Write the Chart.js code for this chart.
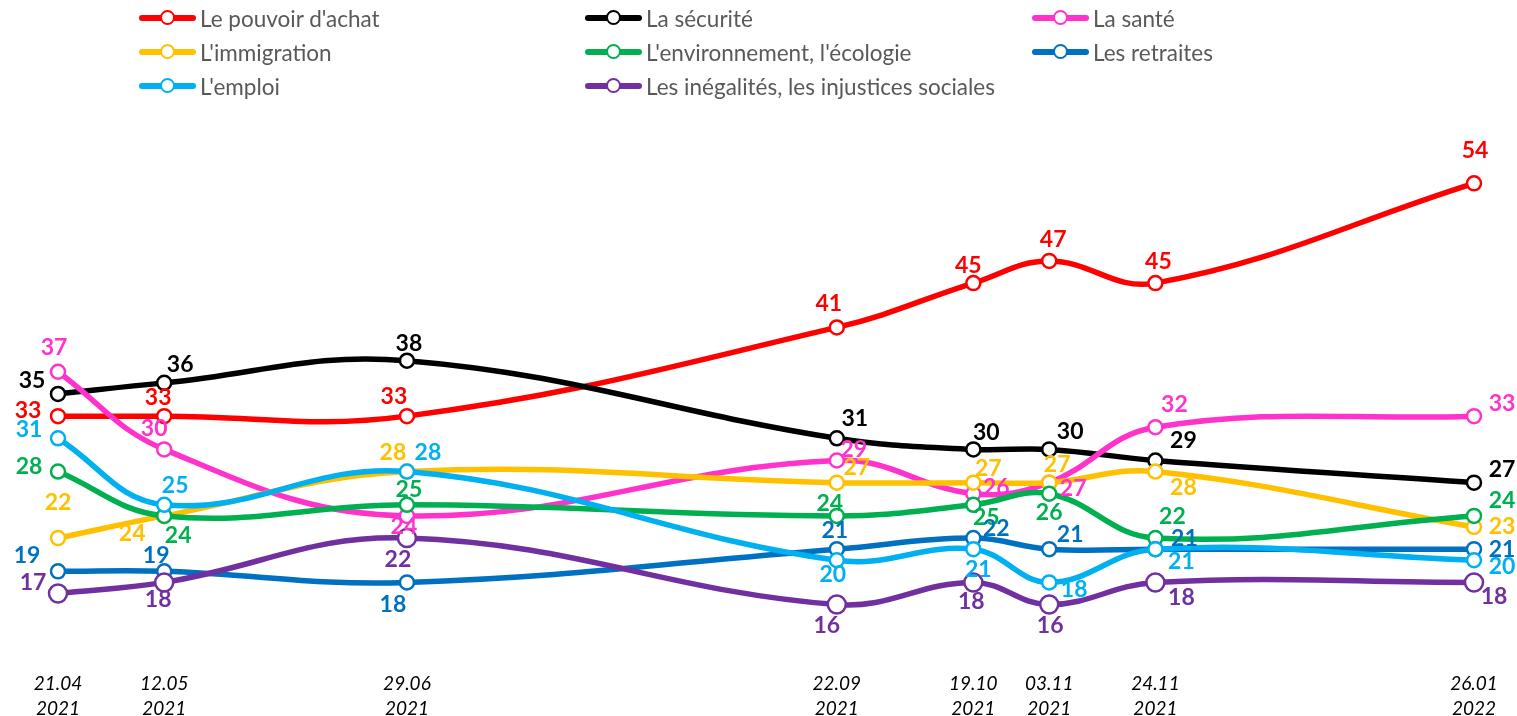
<!DOCTYPE html>
<html lang="fr">
<head>
<meta charset="utf-8">
<script src="https://cdn.jsdelivr.net/npm/chart.js@4.4.1/dist/chart.umd.min.js"></script>
<style>
    html, body { margin: 0; padding: 0; background: #fff; overflow: hidden; }
    #wrap { position: relative; width: 1517px; height: 716px; }
    #chart { position: absolute; left: 0; top: 0; }
    .legend-item { position: absolute; display: flex; align-items: center; height: 30px; font-family: Lato, sans-serif; font-size: 22.5px; color: #595959; white-space: nowrap; }
    .legend-mark { position: relative; width: 57px; height: 6px; border-radius: 3px; margin-right: 4px; }
    .legend-mark span { position: absolute; left: 21px; top: -5px; width: 11px; height: 11px; border-radius: 50%; background: #fff; border: 2.5px solid; }
</style>
</head>
<body>
<div id="wrap">
    <canvas id="chart" width="1517" height="716"></canvas>
    <div id="legend"></div>
</div>
<script>
// survey dates (x axis)
const dates = ['21.04.2021', '12.05.2021', '29.06.2021', '22.09.2021', '19.10.2021', '03.11.2021', '24.11.2021', '26.01.2022'];

const seriesNames = [
    "Le pouvoir d'achat", 'La sécurité', 'La santé',
    "L'immigration", "L'environnement, l'écologie", 'Les retraites',
    "L'emploi", 'Les inégalités, les injustices sociales'
];

const pouvoirAchat = [33, 33, 33, 41, 45, 47, 45, 54];
const securite     = [35, 36, 38, 31, 30, 30, 29, 27];
const sante        = [37, 30, 24, 29, 26, 27, 32, 33];
const immigration  = [22, 24, 28, 27, 27, 27, 28, 23];
const environnement = [28, 24, 25, 24, 25, 26, 22, 24];
const retraites    = [19, 19, 18, 21, 22, 21, 21, 21];
const emploi       = [31, 25, 28, 20, 21, 18, 21, 20];
const inegalites   = [17, 18, 22, 16, 18, 16, 18, 18];

const seriesValues = [pouvoirAchat, securite, sante, immigration, environnement, retraites, emploi, inegalites];
const seriesColors = ['#FF0000', '#000000', '#FF33CC', '#FFC000', '#00B050', '#0070C0', '#00B0F0', '#7030A0'];

// where each value label sits relative to its point (dx, dy in px)
const labelOffsets = [
    [[-30, -6], [-6, -19], [-13, -20], [-8, -24], [-5, -18], [4, -21], [3, -22], [1, -33]],
    [[-26, -13], [16, -18], [2, -17], [18, -20], [13, -17], [21, -18], [28, -20], [28, -13]],
    [[-4, -24], [-10, -21], [-3, 11], [17, -11], [23, -6], [24, 6], [19, -23], [28, -13]],
    [[0, -35], [-32, 18], [-14, -19], [20, -15], [15, -14], [8, -18], [28, 16], [28, 0]],
    [[-29, -5], [14, 20], [2, -15], [-7, -12], [13, 13], [0, 19], [17, -21], [28, -15]],
    [[-31, -16], [-8, -16], [-14, 22], [-2, -19], [23, -9], [21, -15], [29, -11], [28, 0]],
    [[-29, -9], [11, -19], [21, -19], [-4, 14], [5, 20], [25, 7], [26, 12], [28, 6]],
    [[-25, -11], [-6, 17], [-9, 22], [-10, 21], [-2, 19], [1, 21], [26, 15], [20, 14]]
];

function dayNumber(s) {
    const [d, m, y] = s.split('.').map(Number);
    return Date.UTC(y, m - 1, d) / 86400000;
}
const day0 = dayNumber(dates[0]);
const days = dates.map(s => dayNumber(s) - day0);

// legend (3 columns, row-major)
const legendCols = [139, 585, 1032];
const legendRows = [3, 37, 71];
const legendEl = document.getElementById('legend');
seriesNames.forEach((name, i) => {
    const item = document.createElement('div');
    item.className = 'legend-item';
    item.style.left = legendCols[i % 3] + 'px';
    item.style.top = legendRows[Math.floor(i / 3)] + 'px';
    item.innerHTML = `<div class="legend-mark" style="background:${seriesColors[i]}"><span style="border-color:${seriesColors[i]}"></span></div>`;
    item.appendChild(document.createTextNode(name));
    legendEl.appendChild(item);
});

const valueLabels = {
    id: 'valueLabels',
    afterDatasetsDraw(chart) {
        const ctx = chart.ctx;
        ctx.save();
        ctx.font = 'bold 23px Lato';
        ctx.textAlign = 'center';
        ctx.textBaseline = 'middle';
        chart.data.datasets.forEach((ds, i) => {
            const meta = chart.getDatasetMeta(i);
            meta.data.forEach((pt, j) => {
                const [dx, dy] = labelOffsets[i][j];
                ctx.fillStyle = ds.borderColor;
                ctx.fillText(String(ds.data[j].y), pt.x + dx, pt.y + dy);
            });
        });
        ctx.restore();
    }
};

const datasets = seriesNames.map((name, i) => ({
    label: name,
    data: seriesValues[i].map((v, j) => ({ x: days[j], y: v })),
    borderColor: seriesColors[i],
    backgroundColor: '#ffffff',
    pointBackgroundColor: '#ffffff',
    pointBorderColor: seriesColors[i],
    borderWidth: 5.5,
    pointRadius: i === 7 ? 9 : 7,
    pointBorderWidth: 2.5,
    tension: 0.4,
    borderCapStyle: 'round',
    clip: false,
    order: seriesNames.length - i
}));

new Chart(document.getElementById('chart'), {
    type: 'line',
    data: { datasets: datasets },
    options: {
        responsive: false,
        animation: false,
        layout: { padding: { top: 139, left: 58, right: 43, bottom: 0 } },
        plugins: {
            legend: { display: false },
            tooltip: { enabled: false }
        },
        scales: {
            x: {
                type: 'linear',
                min: 0,
                max: days[days.length - 1],
                grid: { display: false },
                border: { display: false },
                afterBuildTicks: scale => { scale.ticks = days.map(v => ({ value: v })); },
                afterFit: scale => { scale.height = 56; },
                ticks: {
                    padding: 3,
                    maxRotation: 0,
                    autoSkip: false,
                    color: '#000',
                    font: { family: 'Lato', size: 19, style: 'italic', lineHeight: 1.32 },
                    callback: value => {
                        const k = days.indexOf(value);
                        if (k < 0) return '';
                        const p = dates[k].split('.');
                        return [p[0] + '.' + p[1], p[2]];
                    }
                }
            },
            y: {
                display: false,
                min: 11,
                max: 58
            }
        }
    },
    plugins: [valueLabels]
});
</script>
</body>
</html>
